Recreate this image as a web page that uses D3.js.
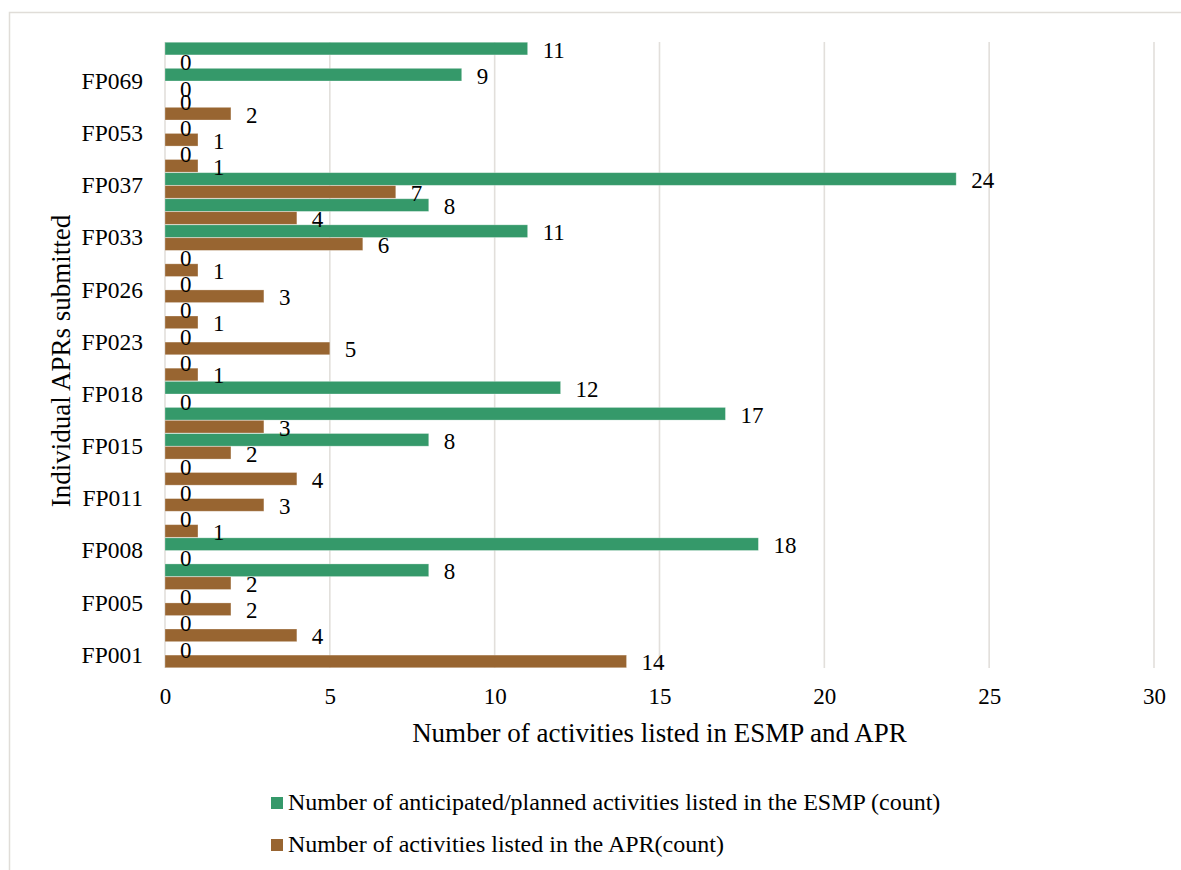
<!DOCTYPE html>
<html>
<head>
<meta charset="utf-8">
<script src="https://cdn.jsdelivr.net/npm/d3@7"></script>
<style>
  html, body { margin: 0; padding: 0; background: #fff; }
  svg { display: block; }
  text { font-family: "Liberation Serif", "Times New Roman", serif; fill: #000; }
</style>
</head>
<body>
<svg id="chart" width="1181" height="870"></svg>
<script>
// Categories in chart order, bottom to top (only every other label is shown)
const categories = ["FP001","FP004","FP005","FP007","FP008","FP010","FP011","FP014",
                    "FP015","FP017","FP018","FP021","FP023","FP024","FP026","FP027",
                    "FP033","FP034","FP037","FP040","FP053","FP058","FP069","FP072"];
const shownLabels = ["FP001","FP005","FP008","FP011","FP015","FP018","FP023","FP026",
                     "FP033","FP037","FP053","FP069"];
const esmpValues = [0,0,0,8,18,0,0,0,8,17,12,0,0,0,0,0,11,8,24,0,0,0,9,11];
const aprValues  = [14,4,2,2,0,1,3,4,2,3,0,1,5,1,3,1,6,4,7,1,1,2,0,0];
const seriesNames = ["Number of anticipated/planned activities listed in the ESMP (count)",
                     "Number of activities listed in the APR(count)"];
const seriesColors = ["#35996A", "#986531"];
const xTicks = [0,5,10,15,20,25,30];
const xTitle = "Number of activities listed in ESMP and APR";
const yTitle = "Individual APRs submitted";

const svg = d3.select("#chart");
const FONT = 23;

// outer frame
svg.append("rect").attr("x", 9.5).attr("y", 12.5).attr("width", 1190).attr("height", 880)
  .attr("fill", "none").attr("stroke", "#e0ddd8").attr("stroke-width", 1.5);

const plot = { left: 165, right: 1154, top: 42, bottom: 668 };

const x = d3.scaleLinear().domain([0, 30]).range([plot.left, plot.right]);
const y = d3.scaleBand().domain(categories.slice().reverse()).range([plot.top, plot.bottom]).paddingInner(0).paddingOuter(0);
const inner = d3.scaleBand().domain([0, 1]).range([0, y.bandwidth()]).padding(0.02);

// gridlines
svg.append("g").selectAll("line").data(xTicks).join("line")
  .attr("x1", d => x(d)).attr("x2", d => x(d))
  .attr("y1", plot.top).attr("y2", plot.bottom)
  .attr("stroke", "#e2dfdb").attr("stroke-width", 1.6);

// bars
const rows = categories.map((c, i) => ({ cat: c, vals: [esmpValues[i], aprValues[i]] }));
const groups = svg.append("g").selectAll("g").data(rows).join("g")
  .attr("transform", d => `translate(0,${y(d.cat)})`);

groups.selectAll("rect").data(d => d.vals.map((v, s) => ({ v, s }))).join("rect")
  .attr("x", x(0))
  .attr("y", d => inner(d.s))
  .attr("width", d => x(d.v) - x(0))
  .attr("height", inner.bandwidth())
  .attr("fill", d => seriesColors[d.s])
  .attr("stroke", d => d.v > 0 ? "#fff" : "none")
  .attr("stroke-opacity", 0.35)
  .attr("stroke-width", 0.8);

// value labels
groups.selectAll("text").data(d => d.vals.map((v, s) => ({ v, s }))).join("text")
  .attr("x", d => x(d.v) + 15)
  .attr("y", d => inner(d.s) + inner.bandwidth() / 2 + 9)
  .attr("font-size", FONT)
  .text(d => d.v);

// x axis
const xAxis = d3.axisBottom(x).tickValues(xTicks).tickSize(0).tickPadding(0);
const gx = svg.append("g").attr("transform", `translate(0,${plot.bottom})`).call(xAxis);
gx.select(".domain").remove();
gx.selectAll("text").attr("font-size", FONT).attr("dy", null).attr("y", 36)
  .attr("font-family", '"Liberation Serif", serif').attr("fill", "#000");

// y axis
const yAxis = d3.axisLeft(y).tickValues(shownLabels).tickSize(0).tickPadding(0);
const gy = svg.append("g").attr("transform", `translate(${plot.left - 22},0)`).call(yAxis);
gy.select(".domain").remove();
gy.selectAll("text").attr("font-size", 23.5).attr("dy", "0.33em")
  .attr("font-family", '"Liberation Serif", serif').attr("fill", "#000");

// axis titles
svg.append("text").attr("x", (plot.left + plot.right) / 2).attr("y", 742)
  .attr("text-anchor", "middle").attr("font-size", 27).text(xTitle);
svg.append("text").attr("transform", "translate(70,361) rotate(-90)")
  .attr("text-anchor", "middle").attr("font-size", 27).text(yTitle);

// legend
const legend = svg.append("g").selectAll("g").data(seriesNames).join("g")
  .attr("transform", (d, i) => `translate(271,${797 + i * 42})`);
legend.append("rect").attr("width", 12).attr("height", 12)
  .attr("fill", (d, i) => seriesColors[i]);
legend.append("text").attr("x", 17).attr("y", 12.5).attr("font-size", 24).text(d => d);
</script>
</body>
</html>
